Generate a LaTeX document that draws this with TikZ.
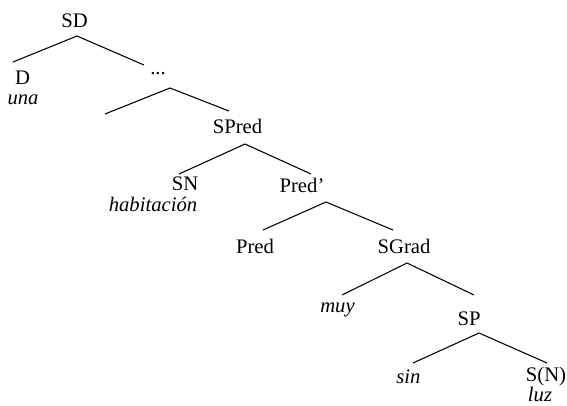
\documentclass[tikz,border=0pt]{standalone}
\usepackage{fontspec}
\setmainfont{Liberation Serif}
\usepackage{tikz}

\begin{document}
\begin{tikzpicture}[x=0.75pt,y=0.75pt,yscale=-1,xscale=1,
  cat/.style={anchor=base,inner sep=0pt,font=\fontsize{15.5}{18}\selectfont},
  word/.style={cat,font=\fontsize{15.5}{18}\selectfont\itshape},
  branch/.style={line width=0.8pt}]
\useasboundingbox (0,0) rectangle (567,405);

% Text Node
\node[cat] (SD) at (74.5,27) {SD};
% Text Node
\node[cat] (D) at (22.5,84) {D};
% Text Node
\node[word] (una) at (23,104) {una};
% Text Node
\node[cat] (dots) at (158,74) {...};
% Text Node
\node[cat] (SPred) at (237.5,133) {SPred};
% Text Node
\node[cat] (SN) at (185,190) {SN};
% Text Node
\node[word] (habitacion) at (153,211) {habitación};
% Text Node
\node[cat] (Predb) at (302,192) {Pred’};
% Text Node
\node[cat] (Pred) at (255,253) {Pred};
% Text Node
\node[cat] (SGrad) at (404,253) {SGrad};
% Text Node
\node[word] (muy) at (337.5,312) {muy};
% Text Node
\node[cat] (SP) at (469,325) {SP};
% Text Node
\node[word] (sin) at (408.5,383) {sin};
% Text Node
\node[cat] (SN2) at (546,381) {S(N)};
% Text Node
\node[word] (luz) at (540,401) {luz};

%Branch points
\coordinate (SD-t) at (77,36);
\coordinate (D-t) at (13,62);
\coordinate (dots-t) at (144,65);
\coordinate (dots-b) at (170,88);
\coordinate (empty-t) at (105,114);
\coordinate (SPred-t) at (229,111);
\coordinate (SPred-b) at (245,144);
\coordinate (SN-t) at (179,174);
\coordinate (Predb-t) at (311,174);
\coordinate (Predb-b) at (326,202);
\coordinate (Pred-t) at (263,230);
\coordinate (SGrad-t) at (393,230);
\coordinate (SGrad-b) at (407,263);
\coordinate (muy-t) at (342,295);
\coordinate (SP-t) at (474,295);
\coordinate (SP-b) at (479,333);
\coordinate (sin-t) at (413,363);
\coordinate (SN2-t) at (547,363);

%Straight Lines
\draw[branch] (D-t) -- (SD-t) -- (dots-t);
%Straight Lines
\draw[branch] (empty-t) -- (dots-b) -- (SPred-t);
%Straight Lines
\draw[branch] (SN-t) -- (SPred-b) -- (Predb-t);
%Straight Lines
\draw[branch] (Pred-t) -- (Predb-b) -- (SGrad-t);
%Straight Lines
\draw[branch] (muy-t) -- (SGrad-b) -- (SP-t);
%Straight Lines
\draw[branch] (sin-t) -- (SP-b) -- (SN2-t);

\end{tikzpicture}
\end{document}
